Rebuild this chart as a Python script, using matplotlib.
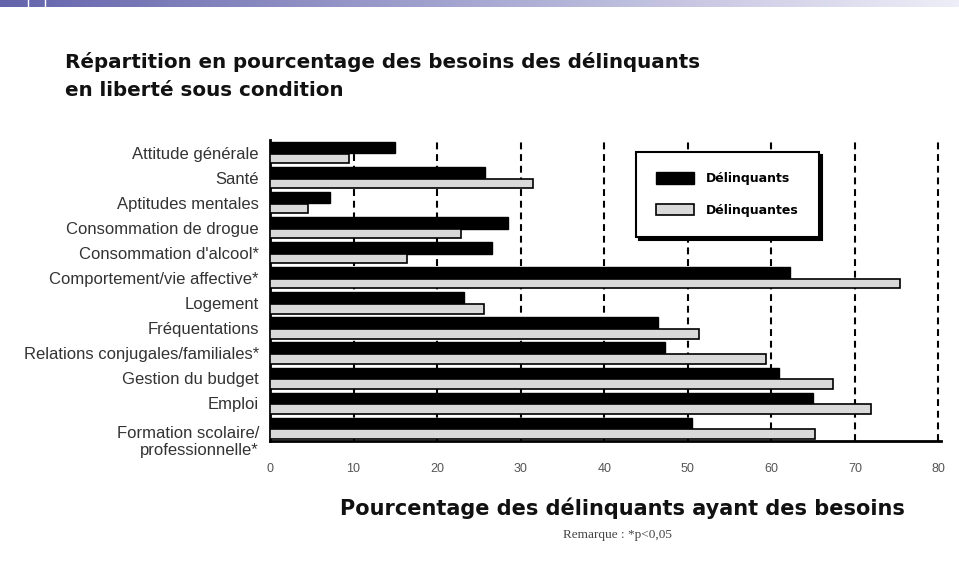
import numpy as np
import matplotlib
matplotlib.use("Agg")
import matplotlib.pyplot as plt
from matplotlib.patches import Patch
from matplotlib.colors import LinearSegmentedColormap

# besoins, du haut vers le bas
categories = [
    "Attitude générale",
    "Santé",
    "Aptitudes mentales",
    "Consommation de drogue",
    "Consommation d'alcool*",
    "Comportement/vie affective*",
    "Logement",
    "Fréquentations",
    "Relations conjugales/familiales*",
    "Gestion du budget",
    "Emploi",
    "Formation scolaire/\nprofessionnelle*",
]
delinquants = [14.9, 25.7, 7.2, 28.5, 26.6, 62.2, 23.2, 46.4, 47.3, 60.9, 65.0, 50.5]
delinquantes = [9.5, 31.5, 4.6, 22.8, 16.4, 75.4, 25.6, 51.3, 59.3, 67.4, 71.9, 65.2]
xticks = [0, 10, 20, 30, 40, 50, 60, 70, 80]

lab_font = ["Liberation Sans", "DejaVu Sans"]
bold_font = ["DejaVu Sans"]

fig = plt.figure(figsize=(9.59, 5.80), dpi=100)

# bandeau degrade en haut
band = fig.add_axes([0, 1 - 7 / 580, 1, 7 / 580])
grad = np.linspace(0, 1, 256).reshape(1, -1)
cm = LinearSegmentedColormap.from_list("band", ["#6464ac", "#a8a8d2", "#eeeef8"])
band.imshow(grad, aspect="auto", cmap=cm, extent=[0, 959, 0, 1])
for xx in (28, 45):
    band.axvline(xx, color="white", lw=1)
band.set_axis_off()

ax = fig.add_axes([270 / 959, 1 - 441 / 580, 671 / 959, 301 / 580])
y = np.arange(len(categories))
ax.barh(y - 0.2, delinquants, height=0.46, color="black", edgecolor="black", lw=1, zorder=3)
ax.barh(y + 0.23, delinquantes, height=0.38, color="#d9d9d9", edgecolor="black", lw=1.2, zorder=3)

ax.set_xlim(0, 80.3)
ax.set_ylim(len(categories) - 0.5, -0.5)
ax.set_xticks(xticks)
ax.set_xticklabels([str(t) for t in xticks], family=lab_font, fontsize=9, color="#555555")
ytick_pos = list(y[:-1]) + [11.45]
ax.set_yticks(ytick_pos)
ax.set_yticklabels(categories, family=lab_font, fontsize=12, color="#333333", linespacing=1.15)
ax.tick_params(axis="both", length=0, pad=8)
ax.tick_params(axis="x", pad=16)
for t in xticks[1:]:
    ax.axvline(t, color="black", lw=1.5, ls=(0, (3.3, 2.3)), zorder=1)
for s in ("top", "right"):
    ax.spines[s].set_visible(False)
ax.spines["left"].set_linewidth(2)
ax.spines["bottom"].set_linewidth(2)

fig.text(622 / 959, 1 - 508 / 580, "Pourcentage des délinquants ayant des besoins",
         family=bold_font, fontsize=15, fontweight="bold", ha="center", va="center",
         color="#111111")
fig.text(617 / 959, 1 - 535 / 580, "Remarque : *p<0,05", ha="center", va="center",
         family="Liberation Serif", fontsize=9.5, color="#444444")

fig.text(65 / 959, 1 - 62 / 580, "Répartition en pourcentage des besoins des délinquants",
         family=bold_font, fontsize=14.3, fontweight="bold", va="center", color="#111111")
fig.text(65 / 959, 1 - 91 / 580, "en liberté sous condition",
         family=bold_font, fontsize=14.3, fontweight="bold", va="center", color="#111111")

handles = [Patch(facecolor="black", edgecolor="black", label="Délinquants"),
           Patch(facecolor="#d9d9d9", edgecolor="black", lw=1.2, label="Délinquantes")]
leg = fig.legend(handles=handles, loc="upper left", bbox_to_anchor=(636 / 959, 1 - 152 / 580),
                 frameon=True, fancybox=False, shadow={"color": "black", "alpha": 1},
                 edgecolor="black", framealpha=1, borderpad=1.6, handlelength=3.0,
                 handleheight=1.05, handletextpad=1.0, labelspacing=1.5, borderaxespad=0,
                 prop={"family": bold_font, "size": 9, "weight": "bold"})
leg.get_frame().set_linewidth(1.5)

fig.savefig("out.png", dpi=100)
